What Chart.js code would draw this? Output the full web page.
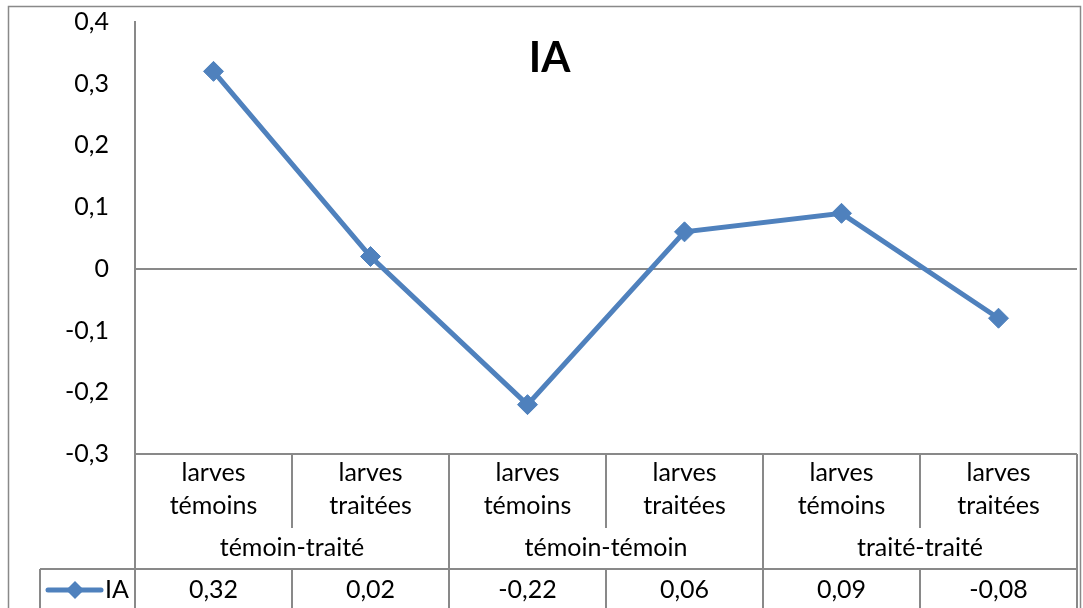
<!DOCTYPE html>
<html>
<head>
<meta charset="utf-8">
<script src="https://cdn.jsdelivr.net/npm/chart.js@4/dist/chart.umd.min.js"></script>
<style>
  html, body { margin: 0; padding: 0; background: #fff; }
  #wrap { width: 1083px; height: 608px; position: relative; }
</style>
</head>
<body>
<div id="wrap"><canvas id="c" width="1083" height="608"></canvas></div>
<script>
// ---- data ----
const seriesName = "IA";
const subCategories = [
  ["larves", "témoins"], ["larves", "traitées"],
  ["larves", "témoins"], ["larves", "traitées"],
  ["larves", "témoins"], ["larves", "traitées"]
];
const groupLabels = ["témoin-traité", "témoin-témoin", "traité-traité"];
const groupSpan = [2, 2, 2];
const iaValues = [0.32, 0.02, -0.22, 0.06, 0.09, -0.08];
const yTickValues = [0.4, 0.3, 0.2, 0.1, 0, -0.1, -0.2, -0.3];

const FONT = "Lato, 'Noto Sans', sans-serif";
const FS = 25;
const GRAY = "#898989";
const BLUE = "#4F81BD";

function fmt(v) {
  const r = Math.round(v * 100) / 100;
  if (r === 0) return "0";
  return String(r).replace(".", ",");
}

const tablePlugin = {
  id: "dataTable",
  afterDraw(chart) {
    const ctx = chart.ctx;
    const xs = chart.scales.x;
    const ca = chart.chartArea;
    const n = subCategories.length;
    const step = xs.getPixelForValue(1) - xs.getPixelForValue(0);
    const edge = i => xs.getPixelForValue(i) - step / 2;
    const yTop = ca.bottom;            // top of category table
    const ySubBottom = yTop + 74;      // end of sub-category rows
    const yGroupBottom = yTop + 115;   // data table top
    const yEnd = chart.height + 20;
    const legendLeft = 40;

    ctx.save();
    // outer chart border
    ctx.strokeStyle = GRAY;
    ctx.lineWidth = 1.5;
    ctx.strokeRect(8.5, 6.5, chart.width - 11, chart.height + 20);

    ctx.lineWidth = 2;
    ctx.strokeStyle = GRAY;
    ctx.beginPath();
    ctx.moveTo(ca.left, yTop); ctx.lineTo(edge(n), yTop);
    ctx.moveTo(legendLeft, yGroupBottom); ctx.lineTo(edge(n), yGroupBottom);
    ctx.moveTo(legendLeft, yGroupBottom); ctx.lineTo(legendLeft, yEnd);
    let groupEdges = [0];
    let acc = 0;
    groupSpan.forEach(s => { acc += s; groupEdges.push(acc); });
    for (let i = 0; i <= n; i++) {
      const x = edge(i);
      const isGroup = groupEdges.includes(i);
      ctx.moveTo(x, yTop);
      if (isGroup) {
        ctx.lineTo(x, yEnd);
      } else {
        ctx.lineTo(x, ySubBottom);
        ctx.moveTo(x, yGroupBottom);
        ctx.lineTo(x, yEnd);
      }
    }
    ctx.stroke();

    // texts
    ctx.fillStyle = "#000";
    ctx.textAlign = "center";
    ctx.textBaseline = "middle";
    ctx.font = FS + "px " + FONT;
    subCategories.forEach((lines, i) => {
      const cx = xs.getPixelForValue(i);
      lines.forEach((t, k) => ctx.fillText(t, cx, yTop + 19 + k * 33));
    });
    let start = 0;
    groupLabels.forEach((g, gi) => {
      const x0 = edge(start), x1 = edge(start + groupSpan[gi]);
      ctx.fillText(g, (x0 + x1) / 2, yTop + 94);
      start += groupSpan[gi];
    });
    iaValues.forEach((v, i) => {
      ctx.fillText(fmt(v), xs.getPixelForValue(i), yGroupBottom + 21);
    });

    // legend key
    const ly = yGroupBottom + 21;
    ctx.strokeStyle = BLUE;
    ctx.lineWidth = 5;
    ctx.lineCap = "round";
    ctx.beginPath();
    ctx.moveTo(48, ly); ctx.lineTo(101, ly);
    ctx.stroke();
    ctx.fillStyle = BLUE;
    ctx.beginPath();
    const r = 9;
    ctx.moveTo(75, ly - r); ctx.lineTo(75 + r, ly); ctx.lineTo(75, ly + r); ctx.lineTo(75 - r, ly);
    ctx.closePath(); ctx.fill();
    ctx.fillStyle = "#000";
    ctx.textAlign = "left";
    ctx.fillText(seriesName, 105, ly);

    // title
    ctx.font = "bold 42px " + FONT;
    ctx.textAlign = "center";
    ctx.fillText(seriesName, chart.width / 2 + 8, 58);
    ctx.restore();
  }
};

new Chart(document.getElementById("c"), {
  type: "line",
  data: {
    labels: subCategories,
    datasets: [{
      label: seriesName,
      data: iaValues,
      borderColor: BLUE,
      backgroundColor: BLUE,
      borderWidth: 5,
      pointStyle: "rectRot",
      pointRadius: 10,
      pointBorderWidth: 1,
      pointBorderColor: BLUE,
      pointBackgroundColor: BLUE,
      tension: 0
    }]
  },
  options: {
    responsive: false,
    animation: false,
    layout: { autoPadding: false, padding: { top: 22, right: 6, bottom: 154, left: 0 } },
    plugins: { legend: { display: false }, title: { display: false }, tooltip: { enabled: false } },
    scales: {
      x: { type: "category", offset: true, display: false },
      y: {
        min: -0.3, max: 0.4,
        afterFit(scale) { scale.width = 135; scale.paddingTop = 0; scale.paddingBottom = 0; },
        afterBuildTicks(scale) { scale.ticks = yTickValues.map(v => ({ value: v })); },
        ticks: {
          padding: 26,
          color: "#000",
          font: { family: FONT, size: FS },
          callback: v => fmt(v)
        },
        grid: {
          drawTicks: false,
          lineWidth: 2,
          color: c => (c.tick && Math.abs(c.tick.value) < 1e-9) ? GRAY : "rgba(0,0,0,0)"
        },
        border: { display: true, color: GRAY, width: 2 }
      }
    }
  },
  plugins: [tablePlugin]
});
</script>
</body>
</html>
